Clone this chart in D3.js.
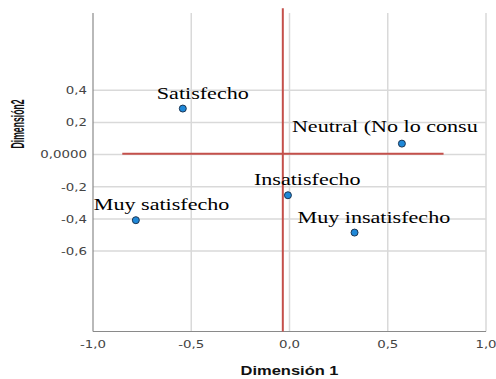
<!DOCTYPE html>
<html>
<head>
<meta charset="utf-8">
<script src="https://cdn.jsdelivr.net/npm/d3@7"></script>
<style>
  html, body { margin: 0; padding: 0; background: #fff; }
  svg { display: block; }
</style>
</head>
<body>
<svg id="chart" width="496" height="379"></svg>
<script>
// Category points on the two dimensions
const categories = ["Satisfecho", "Neutral (No lo consu", "Insatisfecho", "Muy satisfecho", "Muy insatisfecho"];
const dim1 = [-0.543, 0.572, -0.008, -0.782, 0.331];
const dim2 = [0.286, 0.068, -0.253, -0.408, -0.485];

// Axis ticks
const xTicks = [-1.0, -0.5, 0.0, 0.5, 1.0];
const xTickLabels = ["-1,0", "-0,5", "0,0", "0,5", "1,0"];
const yTicks = [0.4, 0.2, 0.0, -0.2, -0.4, -0.6];
const yTickLabels = ["0,4", "0,2", "0,0000", "-0,2", "-0,4", "-0,6"];

// Reference lines (red)
const refVertical = { x: -0.034, y0: -1.1, y1: 0.91 };
const refHorizontal = { y: 0.005, x0: -0.851, x1: 0.784 };

// Label placement relative to each point (px)
const labelDx = [-26, -110, -34, -42, -57];
const labelDy = [-10, -11.6, -10, -10, -10];

const svg = d3.select("#chart");
const plotLeft = 93, plotRight = 486, plotTop = 13, plotBottom = 331.5;
const stretch = 1.27;

const x = d3.scaleLinear().domain([-1, 1]).range([plotLeft, plotRight]);
const y = d3.scaleLinear().domain([-1.1, 0.88]).range([plotBottom, plotTop]);

// Grid
const grid = svg.append("g");
grid.selectAll("line.v").data(xTicks.slice(1)).join("line")
  .attr("class", "v")
  .attr("x1", d => x(d)).attr("x2", d => x(d))
  .attr("y1", plotTop).attr("y2", plotBottom)
  .attr("stroke", "#d9d9d9").attr("stroke-width", 1.5);
grid.selectAll("line.h").data(yTicks).join("line")
  .attr("class", "h")
  .attr("x1", plotLeft).attr("x2", plotRight)
  .attr("y1", d => y(d)).attr("y2", d => y(d))
  .attr("stroke", "#d9d9d9").attr("stroke-width", 1.5);

// Axis lines
svg.append("line").attr("x1", plotLeft).attr("x2", plotLeft).attr("y1", plotTop).attr("y2", plotBottom)
  .attr("stroke", "#8a8a8a").attr("stroke-width", 1.2);
svg.append("line").attr("x1", plotLeft).attr("x2", plotRight).attr("y1", plotBottom).attr("y2", plotBottom)
  .attr("stroke", "#8a8a8a").attr("stroke-width", 1.2);

// Tick labels
const tickFont = "DejaVu Sans, Verdana, sans-serif";
svg.append("g").selectAll("g").data(yTicks).join("g")
  .attr("transform", d => `translate(${plotLeft - 6},${y(d)}) scale(${stretch},1)`)
  .append("text")
  .attr("text-anchor", "end").attr("dy", "0.36em")
  .attr("font-family", tickFont).attr("font-size", 10.5).attr("fill", "#444")
  .text((d, i) => yTickLabels[i]);

svg.append("g").selectAll("g").data(xTicks).join("g")
  .attr("transform", d => `translate(${x(d)},${plotBottom + 16}) scale(${stretch},1)`)
  .append("text")
  .attr("text-anchor", "middle")
  .attr("font-family", tickFont).attr("font-size", 10.5).attr("fill", "#444")
  .text((d, i) => xTickLabels[i]);

// Axis titles
svg.append("g").attr("transform", `translate(${x(0)},375) scale(${stretch},1)`)
  .append("text").attr("text-anchor", "middle")
  .attr("font-family", "Liberation Sans, Arial, sans-serif").attr("font-weight", "bold")
  .attr("font-size", 13).attr("fill", "#111")
  .text("Dimensión 1");

svg.append("text")
  .attr("transform", "translate(23.5,124) rotate(-90)")
  .attr("text-anchor", "middle")
  .attr("font-family", "Liberation Sans, Arial, sans-serif").attr("font-weight", "bold")
  .attr("font-size", 19).attr("fill", "#111")
  .attr("textLength", 49).attr("lengthAdjust", "spacingAndGlyphs")
  .text("Dimensión2");

// Reference lines
const red = "#c4504b";
svg.append("line")
  .attr("x1", x(refVertical.x)).attr("x2", x(refVertical.x))
  .attr("y1", y(refVertical.y1)).attr("y2", y(refVertical.y0))
  .attr("stroke", red).attr("stroke-width", 2);
svg.append("line")
  .attr("x1", x(refHorizontal.x0)).attr("x2", x(refHorizontal.x1))
  .attr("y1", y(refHorizontal.y)).attr("y2", y(refHorizontal.y))
  .attr("stroke", red).attr("stroke-width", 2);

// Points
const idx = d3.range(categories.length);
svg.append("g").selectAll("circle").data(idx).join("circle")
  .attr("cx", i => x(dim1[i])).attr("cy", i => y(dim2[i]))
  .attr("r", 3.5)
  .attr("fill", "#1f88d8").attr("stroke", "#1b3553").attr("stroke-width", 1);

// Point labels
svg.append("g")
  .selectAll("g").data(idx).join("g")
  .attr("transform", i => `translate(${x(dim1[i]) + labelDx[i]},${y(dim2[i]) + labelDy[i]}) scale(${stretch},1)`)
  .append("text")
  .attr("font-family", "Liberation Serif, Times New Roman, serif")
  .attr("font-size", 17.4).attr("fill", "#000")
  .text(i => categories[i]);
</script>
</body>
</html>
